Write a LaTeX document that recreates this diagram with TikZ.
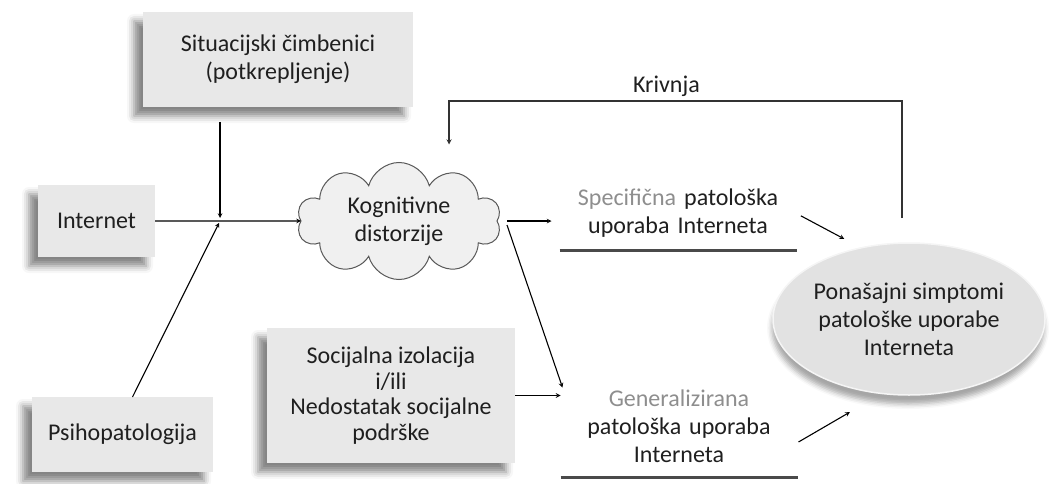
\documentclass[tikz,border=0pt]{standalone}
\usepackage{fontspec}
\setmainfont{Carlito}
\usepackage{tikz}
\usetikzlibrary{arrows,calc,shapes.symbols,shapes.geometric,shadows.blur}
\definecolor{boxgray}{HTML}{E8E8E8}
\definecolor{txtgray}{HTML}{8E8E8E}
\definecolor{rulegray}{HTML}{4A4A4A}
\definecolor{ovalgray}{HTML}{E2E2E2}
\tikzset{%
    >=stealth, % small filled arrow tips
    inner sep=0pt,%
    outer sep=0pt,%
    factor/.style={rectangle, fill=boxgray, align=center,
      blur shadow={shadow xshift=-9pt, shadow yshift=-9pt,
      shadow blur radius=7pt, shadow opacity=48}},%
    usage/.style={align=center, text width=237pt},%
    link/.style={->, line width=1.1pt}%
    }

\begin{document}
\begin{tikzpicture}[x=1pt,y=-1pt,font=\fontsize{24}{28}\selectfont,text=black!88]
    \useasboundingbox (0,0) rectangle (1051,484);
    % influences on the left
    \node[factor, minimum width=270pt, minimum height=95pt] (sit) at (278,59.5)
        {Situacijski čimbenici\\(potkrepljenje)};
    \node[factor, minimum width=117pt, minimum height=72pt] (inet) at (96.5,221) {Internet};
    \node[factor, minimum width=181pt, minimum height=75pt] (psih) at (122.5,434.5) {Psihopatologija};
    \node[factor, minimum width=248pt, minimum height=135pt, font=\fontsize{24}{25.5}\selectfont]
        (soc) at (391,395.5) {Socijalna izolacija\\i/ili\\Nedostatak socijalne\\podrške};

    \node[cloud, draw=black!65, fill=black!6, line width=1pt, cloud puffs=10, aspect=1.8,
        minimum width=204pt, minimum height=117pt, align=center] (cog) at (399,221)
        {Kognitivne\\distorzije};

    % the two kinds of use
    \node[usage] (spec) at (678,213.5) {{\color{txtgray}Specifična} patološka\\uporaba Interneta};
    \node[usage] (gen) at (679,426) {{\color{txtgray}Generalizirana}\\patološka uporaba\\Interneta};
    \draw[line width=2.6pt, rulegray] ($(spec.south west)+(0,13)$) -- ($(spec.south east)+(0,13)$);
    \draw[line width=2.6pt, rulegray] ($(gen.south west)+(0,15)$) -- ($(gen.south east)+(0,15)$);

    \node[ellipse, minimum width=272pt, minimum height=152pt, align=center,
        draw=white!96!black, line width=1.5pt, fill=ovalgray,
        blur shadow={shadow xshift=-1pt, shadow yshift=-9pt, shadow blur radius=5pt,
        shadow opacity=35}] (symp) at (909,319)
        {Ponašajni simptomi\\patološke uporabe\\Interneta};

    \coordinate (join) at (220,221);
    \draw[link, shorten >=3pt] ($(sit.south -| join)+(0,15)$) -- (join);
    \draw[link] (inet) -- (cog);
    \draw[link, shorten >=2pt] ($(psih.north)+(10,0)$) -- (join);

    \draw[link, shorten <=10pt, shorten >=8pt] (cog.east) -- (cog.east -| spec.west);
    \draw[link] ($(cog.east)+(10,4)$) -- ($(soc.east -| gen.west)+(2,-8)$);
    \draw[link] (soc.east) -- (soc.east -| gen.west);

    \draw[link, shorten <=5pt, shorten >=19pt] (spec.east) -- (symp.124);
    \draw[link, shorten >=37pt] ($(gen.east)+(1,16)$) -- (symp.250);

    % feedback
    \draw[link, line width=1.3pt, black!80] ($(symp.north)+(-7,-25)$) -- ++(0,-117)
        -| ($(cog.north)+(50,-18)$) node[pos=0.26, above=4pt, text=black!88] {Krivnja};
\end{tikzpicture}
\end{document}
